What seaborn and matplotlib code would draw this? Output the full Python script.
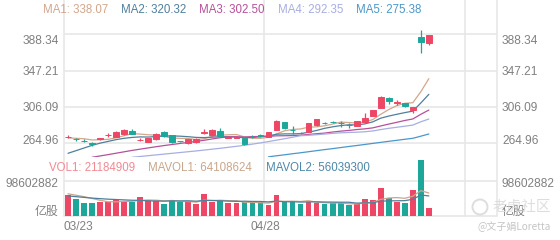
import numpy as np
import matplotlib
matplotlib.use("Agg")
import matplotlib.pyplot as plt
from matplotlib.patches import Circle
import seaborn as sns

# ---------------- data ----------------
tick_labels = ["03/23", "04/28"]
tick_slots = [0, 25]

opens = [272.0, 269.6, 268.0, 265.0, 269.5, 274.0, 272.3, 275.0, 279.1, 268.4,
         266.3, 269.4, 277.6, 273.9, 267.3, 264.8, 266.3, 277.0, 273.9, 278.3,
         271.4, 271.4, 270.5, 272.5, 273.7, 272.3, 279.9, 288.6, 280.1, 276.7,
         278.0, 285.6, 288.4, 289.5, 287.7, 285.8, 284.4, 288.6, 295.8, 305.2,
         316.2, 310.0, 310.2, 302.6, 384.9, 378.1]
highs = [274.5, 271.0, 269.5, 266.7, 271.0, 276.0, 278.5, 280.5, 281.0, 270.5,
         271.0, 276.0, 278.5, 274.5, 268.0, 270.0, 270.5, 281.5, 280.5, 281.8,
         273.0, 273.0, 271.0, 274.0, 275.0, 277.8, 291.0, 289.5, 284.0, 278.0,
         288.0, 292.5, 289.5, 290.5, 290.5, 287.5, 290.3, 299.5, 303.0, 318.5,
         316.8, 313.5, 311.0, 306.0, 393.2, 387.5]
lows = [270.5, 268.0, 266.5, 261.5, 269.0, 272.5, 272.0, 274.5, 275.0, 267.0,
        265.8, 269.0, 272.5, 265.5, 266.0, 264.0, 265.5, 275.5, 273.5, 272.5,
        270.5, 270.5, 263.0, 270.5, 272.0, 272.0, 279.5, 281.0, 275.7, 275.5,
        277.5, 285.0, 287.0, 288.0, 283.6, 281.8, 284.0, 288.2, 295.3, 304.5,
        309.3, 308.5, 306.5, 299.5, 367.2, 376.2]
closes = [272.5, 269.2, 267.6, 264.6, 270.5, 274.5, 278.0, 279.9, 275.4, 268.8,
          270.5, 275.4, 273.1, 266.0, 266.9, 269.4, 270.0, 277.5, 279.9, 273.2,
          271.8, 271.8, 263.7, 272.1, 273.3, 277.3, 290.4, 281.8, 279.7, 276.3,
          287.5, 292.0, 288.0, 289.1, 287.3, 285.4, 289.8, 293.2, 302.6, 317.6,
          312.4, 311.5, 307.1, 305.6, 379.9, 387.2]

nan = np.nan
ma1 = [271.0, 270.5, 270.0, 268.6, 268.9, 269.3, 271.0, 273.5, 275.7, 275.3,
       274.5, 274.0, 272.6, 270.8, 270.4, 270.2, 269.1, 270.0, 272.7, 274.0,
       274.5, 274.8, 272.1, 270.5, 270.5, 271.6, 275.4, 279.0, 280.5, 281.1,
       283.1, 283.5, 284.7, 286.6, 288.8, 288.4, 287.9, 289.0, 291.7, 297.7,
       303.1, 307.5, 310.2, 310.8, 323.3, 338.07]
ma2 = [253.5, 256.5, 259.5, 262.5, 265.0, 267.0, 269.0, 270.5, 271.5, 272.1,
       271.9, 272.5, 273.1, 273.2, 272.9, 272.3, 271.5, 271.3, 271.8, 272.2,
       272.3, 272.0, 271.0, 271.6, 272.3, 273.1, 275.1, 275.5, 275.5, 275.8,
       277.4, 279.4, 281.8, 283.5, 284.9, 285.8, 285.7, 286.8, 289.1, 293.3,
       295.7, 297.7, 299.6, 301.3, 310.5, 320.32]
ma3 = [nan, nan, nan, 249.0, 250.5, 252.0, 253.6, 255.2, 256.8, 258.2,
       259.6, 261.0, 262.3, 263.5, 264.7, 265.9, 267.0, 268.3, 269.8, 271.2,
       272.1, 272.2, 272.0, 272.4, 272.6, 272.7, 273.3, 273.4, 273.6, 274.0,
       274.9, 275.7, 276.4, 277.6, 278.6, 279.4, 280.4, 281.2, 282.3, 284.5,
       286.6, 288.6, 290.7, 292.4, 297.7, 302.50]
ma4 = [nan, nan, nan, nan, nan, nan, nan, nan, 249.0, 249.9,
       250.8, 251.7, 252.6, 253.5, 254.4, 255.3, 256.2, 257.2, 258.2, 259.2,
       260.3, 261.4, 262.6, 263.9, 265.3, 266.8, 268.4, 270.0, 271.7, 273.4,
       273.9, 274.6, 275.3, 276.1, 276.7, 277.1, 277.4, 277.9, 278.8, 280.4,
       281.8, 283.0, 284.2, 285.5, 289.2, 292.35]
ma5 = [nan] * 25 + [249.5, 250.7, 251.8, 253.0, 254.1,
                    255.3, 256.5, 257.7, 258.8, 260.0, 261.2, 262.3, 263.5, 264.7, 265.9,
                    267.1, 268.2, 269.4, 270.5, 272.9, 275.38]

# volume in shares
volume = [58.7e6, 46.6e6, 37.1e6, 37.1e6, 39.9e6, 38.3e6, 45.5e6, 42.7e6, 39.1e6, 52.2e6,
          43.8e6, 42.7e6, 33.5e6, 44.7e6, 39.1e6, 41.9e6, 34.4e6, 62.3e6, 38.3e6, 43.3e6,
          35.5e6, 35.5e6, 38.3e6, 38.3e6, 38.3e6, 30.2e6, 58.7e6, 39.9e6, 39.9e6, 34.4e6,
          40.5e6, 37.1e6, 33.5e6, 35.5e6, 35.5e6, 29.9e6, 33.5e6, 46.6e6, 44.7e6, 77.4e6,
          49.4e6, 39.1e6, 37.1e6, 72.0e6, 155.5e6, 21184909]
mavol1 = [62.0e6, 58.0e6, 54.0e6, 49.0e6, 43.9e6, 39.8e6, 39.6e6, 40.7e6, 41.1e6, 43.6e6,
          44.7e6, 44.1e6, 42.3e6, 43.4e6, 40.8e6, 40.4e6, 38.7e6, 44.5e6, 43.2e6, 44.0e6,
          42.8e6, 43.0e6, 38.2e6, 38.2e6, 37.2e6, 36.1e6, 40.8e6, 41.1e6, 41.4e6, 40.6e6,
          42.7e6, 38.4e6, 37.1e6, 36.2e6, 36.4e6, 34.3e6, 33.6e6, 36.2e6, 38.0e6, 46.4e6,
          50.3e6, 51.4e6, 49.5e6, 55.2e6, 70.9e6, 64108624]
mavol2 = [56.0e6, 54.0e6, 52.0e6, 50.0e6, 48.5e6, 47.0e6, 46.0e6, 45.0e6, 44.0e6, 43.7e6,
          42.2e6, 41.8e6, 41.5e6, 42.2e6, 42.2e6, 42.5e6, 41.4e6, 43.4e6, 43.3e6, 42.4e6,
          41.6e6, 40.9e6, 41.3e6, 40.7e6, 40.6e6, 39.4e6, 41.9e6, 39.6e6, 39.8e6, 38.9e6,
          39.4e6, 39.6e6, 39.1e6, 38.8e6, 38.5e6, 38.5e6, 36.0e6, 36.6e6, 37.1e6, 41.4e6,
          42.3e6, 42.5e6, 42.9e6, 46.6e6, 58.7e6, 56039300]

price_ticks = [388.34, 347.21, 306.09, 264.96]
price_tick_text = ["388.34", "347.21", "306.09", "264.96"]
vol_tick = 98602882
vol_tick_text = "98602882"
vol_unit = "亿股"

ma_names = ["MA1", "MA2", "MA3", "MA4", "MA5"]
ma_values_text = ["338.07", "320.32", "302.50", "292.35", "275.38"]
vol_names = ["VOL1", "MAVOL1", "MAVOL2"]
vol_values_text = ["21184909", "64108624", "56039300"]

# ---------------- style ----------------
RED = "#EE4766"
TEAL = "#1DA79B"
GRID = "#E6E6E6"
TXT = "#808080"
MA_COLORS = ["#D3A68C", "#4F7F9B", "#B5509A", "#A7AEE2", "#4C97C9"]
VOL_LBL_COLORS = ["#F08A94", "#C9A68C", "#4D88A8"]
MAVOL_COLORS = ["#C9A68C", "#4D7F9B"]

sns.set_theme(style="white")
plt.rcParams['font.family'] = ['Liberation Sans', 'Noto Sans CJK SC', 'DejaVu Sans']

W, H = 560, 240
fig = plt.figure(figsize=(5.6, 2.4), dpi=100)
fig.patch.set_facecolor("white")


def fx(px):
    return px / W


def fy(py):
    return 1 - py / H


X0, X1 = 64, 497
NSLOT = 54
XLIM = (-0.5, NSLOT - 0.5)

# background axes for vertical grid lines
bg = fig.add_axes([fx(X0), fy(216), fx(X1) - fx(X0), fy(0) - fy(216)])
bg.set_xlim(*XLIM)
bg.set_ylim(0, 1)
bg.axis("off")
for xv in [-0.5, 24.5, 49.5, NSLOT - 0.5]:
    bg.axvline(xv, color=GRID, lw=1.1, clip_on=False, zorder=0)

idx = np.arange(len(opens))
o = np.array(opens); c = np.array(closes)
hi = np.array(highs); lo = np.array(lows)
is_up = c >= o
cols = [RED if u else TEAL for u in is_up]

# price panel
axp = fig.add_axes([fx(X0), fy(157), fx(X1) - fx(X0), fy(22) - fy(157)])
axp.patch.set_alpha(0)
for v in price_ticks:
    axp.axhline(v, color=GRID, lw=1.1, zorder=0)

for vals, col in zip([ma1, ma2, ma3, ma4, ma5], MA_COLORS):
    sns.lineplot(x=idx, y=vals, ax=axp, color=col, lw=0.9, zorder=2)

axp.vlines(idx, lo, hi, colors=cols, lw=0.9, zorder=3)
axp.bar(idx, np.abs(c - o), bottom=np.minimum(o, c), width=0.72,
        color=cols, edgecolor=cols, linewidth=0.7, zorder=4)
axp.set_xlim(*XLIM)
axp.set_ylim(249.31, 402.28)
axp.axis("off")

# volume panel
axv = fig.add_axes([fx(X0), fy(216), fx(X1) - fx(X0), fy(158) - fy(216)])
axv.patch.set_alpha(0)
axv.axhline(vol_tick, color=GRID, lw=1.1, zorder=0)
axv.bar(idx, volume, width=0.72, color=cols, linewidth=0, zorder=2)
for vals, col in zip([mavol1, mavol2], MAVOL_COLORS):
    sns.lineplot(x=idx, y=vals, ax=axv, color=col, lw=0.9, zorder=3)
axv.set_xlim(*XLIM)
axv.set_ylim(0, 162.0e6)
axv.axhline(0, color=GRID, lw=1.1, clip_on=False, zorder=1)
axv.axis("off")

# ---------------- texts ----------------
FS_LEG = 8.3
FS_TICK = 8.6
leg_x = [43, 121, 199, 278, 356]
for x, n, v, col in zip(leg_x, ma_names, ma_values_text, MA_COLORS):
    fig.text(fx(x), fy(13), f"{n}: {v}", color=col, fontsize=FS_LEG,
             ha="left", va="baseline")
vleg_x = [49, 148, 266]
for x, n, v, col in zip(vleg_x, vol_names, vol_values_text, VOL_LBL_COLORS):
    fig.text(fx(x), fy(171), f"{n}: {v}", color=col, fontsize=FS_LEG,
             ha="left", va="baseline")

label_baselines = [43.6, 75.0, 111.0, 143.6]
for t, yb in zip(price_tick_text, label_baselines):
    fig.text(fx(58.5), fy(yb), t, color=TXT, fontsize=FS_TICK, ha="right", va="baseline")
    fig.text(fx(502), fy(yb), t, color=TXT, fontsize=FS_TICK, ha="left", va="baseline")

fig.text(fx(58.5), fy(187), vol_tick_text, color=TXT, fontsize=FS_TICK, ha="right", va="baseline")
fig.text(fx(502), fy(187), vol_tick_text, color=TXT, fontsize=FS_TICK, ha="left", va="baseline")
fig.text(fx(58.5), fy(215), vol_unit, color=TXT, fontsize=FS_TICK, ha="right", va="baseline")
fig.text(fx(502), fy(215), vol_unit, color=TXT, fontsize=FS_TICK, ha="left", va="baseline")

# date labels
fig.text(fx(64), fy(230.5), tick_labels[0], color=TXT, fontsize=FS_TICK, ha="left", va="baseline")
fig.text(fx(265), fy(230.5), tick_labels[1], color=TXT, fontsize=FS_TICK, ha="center", va="baseline")

# watermark (semi-transparent, overlaps the right unit label as in the reference)
wm = fig.add_axes([0, 0, 1, 1], zorder=10)
wm.set_xlim(0, W); wm.set_ylim(H, 0); wm.axis("off")
wm.add_patch(Circle((480, 207), 7.5, fill=False, ec="#D8D8D8", lw=1.4, alpha=0.85))
wm.text(493, 207, "老虎社区", color="#D8D8D8", fontsize=10.5, ha="left", va="center",
        alpha=0.85, family=["Noto Sans CJK SC", "DejaVu Sans"])
wm.text(477, 227, "@文子娟Loretta", color="#C4C4C4", fontsize=7.2, ha="left", va="center",
        family=["Noto Sans CJK SC", "DejaVu Sans"])

fig.savefig("out.png", dpi=100, facecolor="white")
